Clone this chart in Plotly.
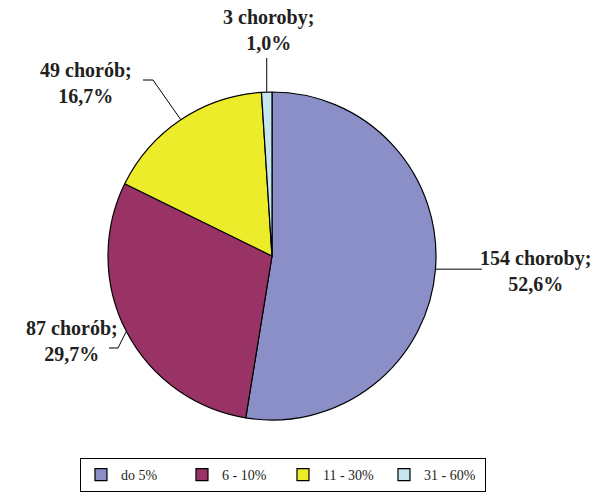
import math
import plotly.graph_objects as go

# data
categories = ["do 5%", "6 - 10%", "11 - 30%", "31 - 60%"]
counts = [154, 87, 49, 3]
words = ["choroby", "chorób", "chorób", "choroby"]
colors = ["#8a8fc7", "#993366", "#ecec2a", "#c4e6ec"]

W, H = 597, 492
cx, cy, r = 272, 256, 164

# leader line geometry (pixels) and label centre
leader = [
    {"pts": [(482, None)], "label": (535, 271)},
    {"pts": [(118, 348), (109, 348)], "label": (72, 341)},
    {"pts": [(153, 80), (143, 80)], "label": (86, 83)},
    {"pts": [(None, 58)], "label": (268, 30)},
]


def px(x, y):
    return x / W, 1 - y / H


fig = go.Figure(go.Pie(
    labels=categories,
    values=counts,
    sort=False,
    direction="clockwise",
    rotation=0,
    marker=dict(colors=colors, line=dict(color="black", width=1.2)),
    textinfo="none",
    hoverinfo="label+value+percent",
    domain=dict(x=[(cx - r) / W, (cx + r) / W], y=[1 - (cy + r) / H, 1 - (cy - r) / H]),
))

total = sum(counts)
cum = 0
shapes = []
annotations = []
for i, v in enumerate(counts):
    mid = (cum + v / 2) / total * 2 * math.pi
    cum += v
    ex = cx + r * math.sin(mid)
    ey = cy - r * math.cos(mid)
    pts = [(ex, ey)]
    for (lx, ly) in leader[i]["pts"]:
        pts.append((lx if lx is not None else ex, ly if ly is not None else ey))
    for (x0, y0), (x1, y1) in zip(pts[:-1], pts[1:]):
        a0, b0 = px(x0, y0)
        a1, b1 = px(x1, y1)
        shapes.append(dict(type="line", xref="paper", yref="paper",
                           x0=a0, y0=b0, x1=a1, y1=b1,
                           line=dict(color="black", width=1)))
    pct = f"{v / total * 100:.1f}".replace(".", ",")
    lx, ly = px(*leader[i]["label"])
    annotations.append(dict(
        x=lx, y=ly, xref="paper", yref="paper", xanchor="center", yanchor="middle",
        text=f"<b>{v} {words[i]};<br>{pct}%</b>", showarrow=False,
        font=dict(family="Times New Roman, Liberation Serif, serif", size=20, color="#231f20"),
    ))

fig.update_layout(
    width=W, height=H,
    margin=dict(l=0, r=0, t=0, b=0),
    paper_bgcolor="white",
    shapes=shapes,
    annotations=annotations,
    legend=dict(
        orientation="h", x=0.474, xanchor="center", y=0, yanchor="bottom",
        bordercolor="black", borderwidth=1,
        font=dict(family="Times New Roman, Liberation Serif, serif", size=14, color="#231f20"),
        entrywidth=56,
    ),
)

fig.write_html("out.html", config={"displayModeBar": False},
               post_script="document.body.style.margin='0';")
